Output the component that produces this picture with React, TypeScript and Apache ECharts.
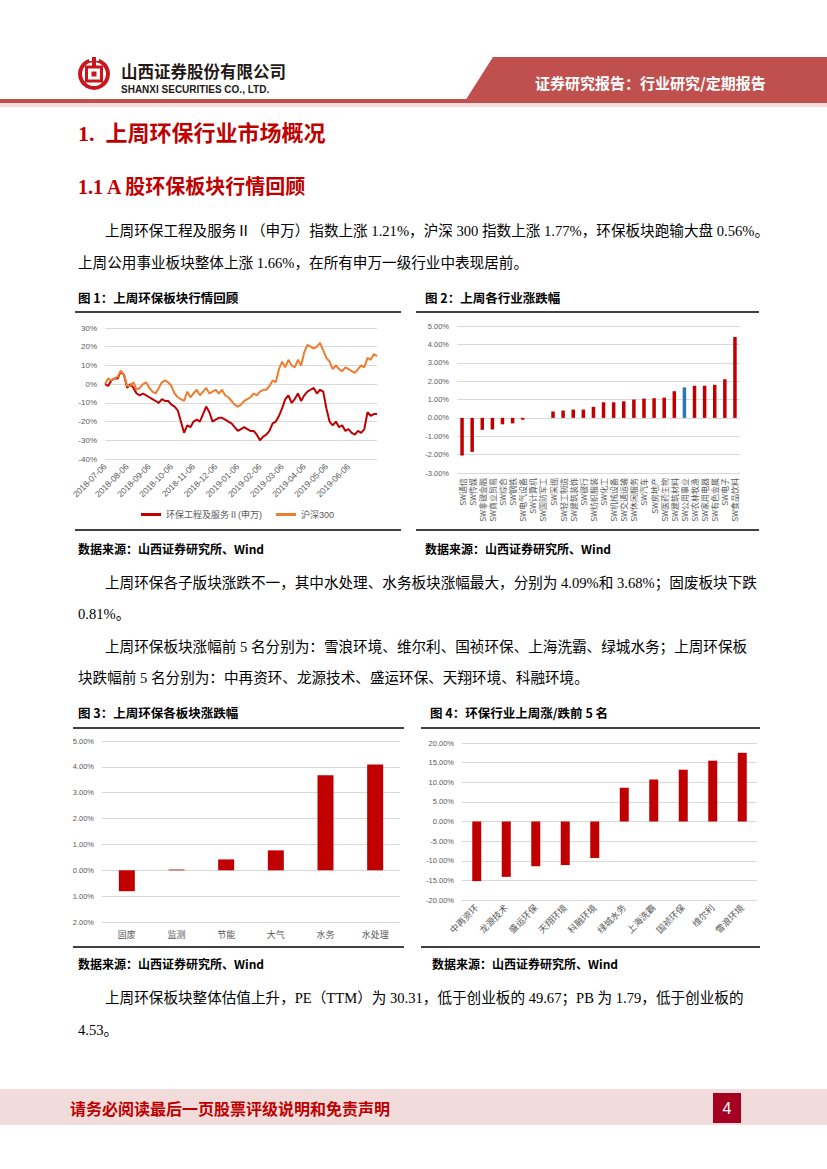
import React, { useEffect, useRef } from "react";
import * as echarts from "echarts";

// ---------- Chart 1: 环保板块行情回顾 ----------
const months = ["2018-07", "2018-08", "2018-09", "2018-10", "2018-11", "2018-12", "2019-01", "2019-02", "2019-03", "2019-04", "2019-05", "2019-06", "2019-07"];
const dayMarks = ["06", "10", "15", "19", "23", "27"];
const tailDates = ["2019-07-06", "2019-07-10", "2019-07-12"];
const envName = "环保工程及服务Ⅱ(申万)";
const hsName = "沪深300";
const envVals = [0, -1, 2, 3, 3, 7, 5, -2, 0, -2, -5, -6, -5, -6, -7, -8, -9, -10, -8, -9, -9, -11, -12, -14, -20, -26, -22, -23, -20, -19, -20, -16, -12, -15, -20, -19, -18, -18, -19, -20, -21, -23, -25, -24, -23, -24, -25, -25, -27, -30, -28, -27, -25, -21, -20, -17, -13, -8, -6, -10, -8, -5, -9, -6, -4, -3, -2, -5, -3, -4, -13, -20, -22, -20, -23, -22, -25, -24, -26, -27, -25, -26, -24, -15, -17, -16, -16];
const hsVals = [0, 3, 2, 3, 4, 7, 5, -1, -1, 1, -3, -2, 0, 1, -2, -4, -5, -2, 1, 2, 1, -1, -5, -7, -8, -9, -4, -7, -5, -3, -6, -4, -2, -5, -4, -3, -5, -3, -6, -7, -9, -11, -12, -11, -9, -8, -7, -5, -6, -4, -3, -3, -1, 2, 1, 8, 12, 9, 13, 10, 9, 13, 10, 17, 21, 20, 19, 20, 22, 18, 14, 12, 8, 10, 8, 7, 9, 8, 7, 6, 8, 10, 9, 14, 13, 16, 15];

// ---------- Chart 2: 各行业涨跌幅 ----------
const industries = ["SW通信", "SW传媒", "SW非银金融", "SW商业贸易", "SW综合", "SW钢铁", "SW电气设备", "SW计算机", "SW国防军工", "SW采掘", "SW轻工制造", "SW建筑装饰", "SW银行", "SW纺织服装", "SW化工", "SW机械设备", "SW交通运输", "SW休闲服务", "SW汽车", "SW房地产", "SW医药生物", "SW建筑材料", "SW公用事业", "SW农林牧渔", "SW家用电器", "SW有色金属", "SW电子", "SW食品饮料"];
const industryVals = [-2.05, -1.85, -0.65, -0.63, -0.35, -0.3, -0.1, 0.0, 0.0, 0.35, 0.4, 0.45, 0.45, 0.6, 0.85, 0.85, 0.9, 1.0, 1.05, 1.07, 1.1, 1.45, 1.66, 1.75, 1.75, 1.8, 2.1, 4.4];
const highlightIndustry = "SW公用事业";

// ---------- Chart 3: 环保各板块涨跌幅 ----------
const subSectors = ["固废", "监测", "节能", "大气", "水务", "水处理"];
const subSectorVals = [-0.81, 0.03, 0.42, 0.77, 3.68, 4.09];

// ---------- Chart 4: 涨/跌前5名 ----------
const stocks = ["中再资环", "龙源技术", "盛运环保", "天翔环境", "科融环境", "绿城水务", "上海洗霸", "国祯环保", "维尔利", "雪浪环境"];
const stockVals = [-15.2, -14.1, -11.4, -11.1, -9.3, 8.6, 10.7, 13.2, 15.5, 17.5];

const RED = "#C00000";
const BLUE = "#2E75B6";
const ORANGE = "#ED7D31";
const AXIS_TXT = "#595959";
const GRID_LINE = "#D9D9D9";
const BODY_FONT = "'Liberation Serif','Noto Sans CJK SC',serif";
const HEI_FONT = "'Noto Sans CJK SC',sans-serif";
const AXIS_FONT = "'Liberation Sans','Noto Sans CJK SC',sans-serif";

function buildDates(): string[] {
  const out: string[] = [];
  for (let k = 0; k < months.length - 1; k++) {
    for (const d of dayMarks) out.push(`${months[k]}-${d}`);
    out.push(`${months[k + 1]}-01`);
  }
  return out.concat(tailDates);
}

function txt(text: string, x: number, y: number, size: number, extra: any = {}) {
  return {
    type: "text",
    x,
    y,
    style: {
      text,
      fontSize: size,
      fontFamily: extra.fontFamily || BODY_FONT,
      fontWeight: extra.fontWeight || "normal",
      fill: extra.fill || "#000",
      align: extra.align || "left",
      verticalAlign: "middle",
    },
  };
}

function hline(x1: number, x2: number, y: number, color = "#404040", w = 2) {
  return { type: "line", shape: { x1, y1: y, x2, y2: y }, style: { stroke: color, lineWidth: w } };
}

export default function App() {
  const ref = useRef<HTMLDivElement>(null);
  useEffect(() => {
    if (!ref.current) return;
    const chart = echarts.init(ref.current, undefined, { renderer: "svg" });
    const dates = buildDates();
    const pct2 = (v: number) => v.toFixed(2) + "%";
    const axLabel = { color: AXIS_TXT, fontSize: 8, fontFamily: AXIS_FONT };
    const split = { show: true, lineStyle: { color: GRID_LINE, width: 1 } };

    const graphic: any[] = [
      // header
      { type: "polygon", shape: { points: [[493, 57], [827, 57], [827, 101], [465, 101]] }, style: { fill: "#C0504D" } },
      { type: "rect", shape: { x: 0, y: 99, width: 827, height: 4 }, style: { fill: "#C0504D" } },
      { type: "rect", shape: { x: 0, y: 103, width: 827, height: 4 }, style: { fill: "#F2DCDB" } },
      txt("证券研究报告：行业研究/定期报告", 535, 82, 15, { fill: "#fff", fontWeight: "bold", fontFamily: HEI_FONT }),
      // logo
      { type: "ring", shape: { cx: 94, cy: 74, r: 16, r0: 12 }, style: { fill: "#C8161D" } },
      { type: "rect", shape: { x: 89, y: 56, width: 10, height: 5 }, style: { fill: "#fff" } },
      { type: "rect", shape: { x: 92, y: 57, width: 4, height: 9 }, style: { fill: "#C8161D" } },
      { type: "rect", shape: { x: 86.5, y: 67, width: 15, height: 14 }, style: { fill: "none", stroke: "#C8161D", lineWidth: 3 } },
      { type: "rect", shape: { x: 91.5, y: 71.5, width: 5, height: 5 }, style: { fill: "#C8161D" } },
      txt("山西证券股份有限公司", 121, 71, 16.5, { fontFamily: HEI_FONT, fontWeight: "bold", fill: "#231815" }),
      txt("SHANXI SECURITIES CO., LTD.", 121, 89, 10, { fontFamily: "'Liberation Sans',sans-serif", fontWeight: "bold", fill: "#231815" }),
      // headings
      txt("1.  上周环保行业市场概况", 78, 133, 22, { fontWeight: "bold", fill: RED }),
      txt("1.1 A 股环保板块行情回顾", 78, 187, 20, { fontWeight: "bold", fill: RED }),
      // paragraphs
      txt("上周环保工程及服务Ⅱ（申万）指数上涨 1.21%，沪深 300 指数上涨 1.77%，环保板块跑输大盘 0.56%。", 105, 231, 14.6),
      txt("上周公用事业板块整体上涨 1.66%，在所有申万一级行业中表现居前。", 78, 263, 14.6),
      txt("图 1：上周环保板块行情回顾", 78, 297, 12.5, { fontFamily: HEI_FONT, fontWeight: "bold" }),
      txt("图 2：上周各行业涨跌幅", 425, 297, 12.5, { fontFamily: HEI_FONT, fontWeight: "bold" }),
      hline(75, 401, 312),
      hline(75, 401, 530),
      hline(416, 759, 312),
      hline(416, 759, 530),
      txt("数据来源：山西证券研究所、Wind", 78, 548, 12, { fontFamily: HEI_FONT, fontWeight: "bold" }),
      txt("数据来源：山西证券研究所、Wind", 425, 548, 12, { fontFamily: HEI_FONT, fontWeight: "bold" }),
      txt("上周环保各子版块涨跌不一，其中水处理、水务板块涨幅最大，分别为 4.09%和 3.68%；固废板块下跌", 105, 583, 14.6),
      txt("0.81%。", 78, 614, 14.6),
      txt("上周环保板块涨幅前 5 名分别为：雪浪环境、维尔利、国祯环保、上海洗霸、绿城水务；上周环保板", 105, 647, 14.6),
      txt("块跌幅前 5 名分别为：中再资环、龙源技术、盛运环保、天翔环境、科融环境。", 78, 678, 14.6),
      txt("图 3：上周环保各板块涨跌幅", 78, 712, 12.5, { fontFamily: HEI_FONT, fontWeight: "bold" }),
      txt("图 4：环保行业上周涨/跌前 5 名", 430, 712, 12.5, { fontFamily: HEI_FONT, fontWeight: "bold" }),
      hline(73, 404, 728),
      hline(73, 404, 947),
      hline(421, 760, 728),
      hline(421, 760, 947),
      txt("数据来源：山西证券研究所、Wind", 78, 963, 12, { fontFamily: HEI_FONT, fontWeight: "bold" }),
      txt("数据来源：山西证券研究所、Wind", 432, 963, 12, { fontFamily: HEI_FONT, fontWeight: "bold" }),
      txt("上周环保板块整体估值上升，PE（TTM）为 30.31，低于创业板的 49.67；PB 为 1.79，低于创业板的", 105, 998, 14.6),
      txt("4.53。", 78, 1030, 14.6),
      // footer
      { type: "rect", shape: { x: 0, y: 1089, width: 827, height: 36 }, style: { fill: "#F2DCDB" } },
      txt("请务必阅读最后一页股票评级说明和免责声明", 70, 1108, 16, { fill: RED, fontWeight: "bold", fontFamily: HEI_FONT }),
      { type: "rect", shape: { x: 713, y: 1093, width: 28, height: 30 }, style: { fill: "#A50021" } },
      txt("4", 727, 1108, 16, { fill: "#fff", align: "center", fontFamily: "'Liberation Sans',sans-serif" }),
    ];

    const option: any = {
      animation: false,
      textStyle: { fontFamily: AXIS_FONT },
      legend: {
        data: [envName, hsName],
        left: 136,
        top: 505,
        icon: "rect",
        itemWidth: 20,
        itemHeight: 3,
        itemGap: 14,
        textStyle: { fontSize: 9, color: AXIS_TXT, fontFamily: AXIS_FONT },
      },
      grid: [
        { left: 105, top: 328, width: 272, height: 131 },
        { left: 457, top: 326, width: 283, height: 147 },
        { left: 102, top: 741, width: 298, height: 181 },
        { left: 462, top: 743, width: 295, height: 157 },
      ],
      xAxis: [
        {
          type: "category", gridIndex: 0, data: dates, boundaryGap: false,
          axisLine: { lineStyle: { color: GRID_LINE } }, axisTick: { show: false },
          axisLabel: { ...axLabel, fontSize: 8.5, rotate: 45, margin: 6, interval: (i: number, v: string) => v.endsWith("-06") && i < 84 },
        },
        {
          type: "category", gridIndex: 1, data: industries,
          axisLine: { show: false }, axisTick: { show: false },
          axisLabel: { ...axLabel, fontSize: 8, rotate: 90, interval: 0, margin: 5, fontFamily: HEI_FONT },
        },
        {
          type: "category", gridIndex: 2, data: subSectors,
          axisLine: { show: false }, axisTick: { show: false },
          axisLabel: { ...axLabel, fontSize: 9, margin: 8, fontFamily: HEI_FONT },
        },
        {
          type: "category", gridIndex: 3, data: stocks,
          axisLine: { show: false }, axisTick: { show: false },
          axisLabel: { ...axLabel, fontSize: 9, rotate: 45, interval: 0, margin: 6, fontFamily: HEI_FONT },
        },
      ],
      yAxis: [
        { type: "value", gridIndex: 0, min: -40, max: 30, interval: 10, splitLine: split, axisLabel: { ...axLabel, formatter: (v: number) => v + "%" } },
        { type: "value", gridIndex: 1, min: -3, max: 5, interval: 1, splitLine: split, axisLabel: { ...axLabel, fontSize: 7.5, formatter: pct2 } },
        { type: "value", gridIndex: 2, min: -2, max: 5, interval: 1, splitLine: split, axisLabel: { ...axLabel, fontSize: 7.5, formatter: (v: number) => Math.abs(v).toFixed(2) + "%" } },
        { type: "value", gridIndex: 3, min: -20, max: 20, interval: 5, splitLine: split, axisLabel: { ...axLabel, fontSize: 7.5, formatter: pct2 } },
      ],
      series: [
        { name: envName, type: "line", xAxisIndex: 0, yAxisIndex: 0, data: envVals, showSymbol: false, symbol: "none", lineStyle: { width: 2, color: RED }, itemStyle: { color: RED } },
        { name: hsName, type: "line", xAxisIndex: 0, yAxisIndex: 0, data: hsVals, showSymbol: false, symbol: "none", lineStyle: { width: 2, color: ORANGE }, itemStyle: { color: ORANGE } },
        {
          type: "bar", xAxisIndex: 1, yAxisIndex: 1, barWidth: 3.5,
          data: industryVals.map((v, i) => ({ value: v, itemStyle: { color: industries[i] === highlightIndustry ? BLUE : RED } })),
        },
        { type: "bar", xAxisIndex: 2, yAxisIndex: 2, barWidth: 16, data: subSectorVals, itemStyle: { color: RED } },
        { type: "bar", xAxisIndex: 3, yAxisIndex: 3, barWidth: 9, data: stockVals, itemStyle: { color: RED } },
      ],
      graphic,
    };
    chart.setOption(option);
    return () => chart.dispose();
  }, []);
  return <div ref={ref} style={{ position: "absolute", left: 0, top: 0, width: 827, height: 1169, background: "#fff" }} />;
}
